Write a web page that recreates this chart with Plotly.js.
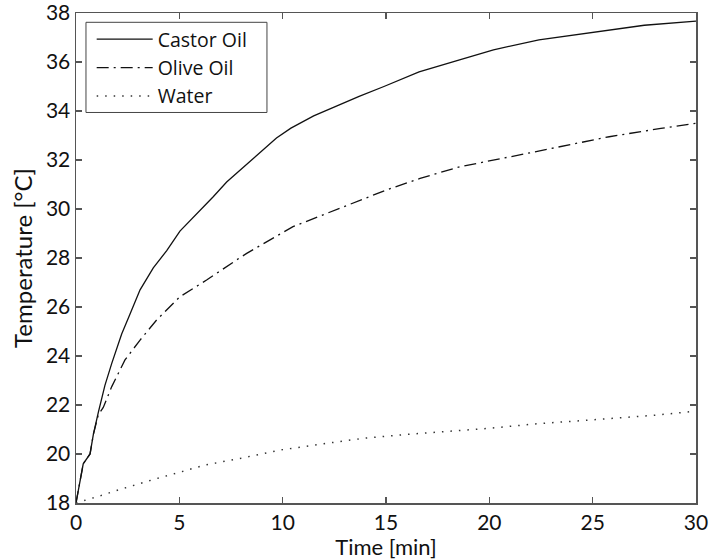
<!DOCTYPE html>
<html>
<head>
<meta charset="utf-8">
<script src="https://cdn.plot.ly/plotly-3.0.1.min.js"></script>
<style>html,body{margin:0;padding:0;background:#fff;}#chart{width:725px;height:560px;}</style>
</head>
<body>
<div id="chart"></div>
<script>
var castorT = [0, 0.35, 0.68, 0.84, 1.08, 1.40, 1.73, 2.21, 2.61, 3.10, 3.74, 4.39, 5.03, 5.84, 6.64, 7.29, 8.5, 9.7, 10.4, 11.5, 12.6, 13.7, 14.9, 16.6, 18.6, 20.2, 22.4, 25.0, 27.5, 30];
var castorY = [18, 19.6, 20.0, 20.8, 21.7, 22.8, 23.7, 24.9, 25.7, 26.7, 27.6, 28.3, 29.1, 29.8, 30.5, 31.1, 32.0, 32.9, 33.3, 33.8, 34.2, 34.6, 35.0, 35.6, 36.1, 36.5, 36.9, 37.2, 37.5, 37.67];

var oliveT = [0, 0.35, 0.68, 0.84, 1.08, 1.32, 1.73, 2.37, 3.10, 3.9, 5.03, 6.32, 7.77, 8.26, 10.5, 12.6, 15.03, 16.65, 18.6, 21, 23.4, 25.8, 28.3, 30];
var oliveY = [18, 19.6, 20.0, 20.8, 21.6, 21.9, 22.75, 23.84, 24.65, 25.47, 26.42, 27.1, 27.92, 28.19, 29.28, 29.96, 30.78, 31.25, 31.73, 32.13, 32.54, 32.95, 33.29, 33.5];

var waterT = [0, 0.5, 1.2, 2, 3, 4, 5, 6.24, 7.94, 9.87, 12, 13.9, 16, 17.94, 20, 22.13, 24, 26.16, 28, 30];
var waterY = [18, 18.12, 18.3, 18.52, 18.78, 19.02, 19.25, 19.55, 19.82, 20.16, 20.42, 20.64, 20.8, 20.91, 21.05, 21.22, 21.33, 21.46, 21.58, 21.75];

var seriesNames = ['Castor Oil', 'Olive Oil', 'Water'];
var xTicks = [0, 5, 10, 15, 20, 25, 30];
var yTicks = [18, 20, 22, 24, 26, 28, 30, 32, 34, 36, 38];

var FONT = 'Lato, "Open Sans", sans-serif';
var LFONT = '"Open Sans", Lato, sans-serif';

var traces = [
  {x: castorT, y: castorY, name: seriesNames[0], mode: 'lines', line: {color: '#111', width: 1.3}},
  {x: oliveT, y: oliveY, name: seriesNames[1], mode: 'lines', line: {color: '#111', width: 1.3, dash: '12px,5px,2px,5px'}},
  {x: waterT, y: waterY, name: seriesNames[2], mode: 'lines', line: {color: '#333', width: 1.5, dash: '1.5px,7px'}}
];

var axisCommon = {
  showgrid: false, zeroline: false, showline: true, mirror: 'ticks',
  linecolor: '#555', linewidth: 1.5,
  ticks: 'inside', ticklen: 6, tickcolor: '#555', tickwidth: 1.2,
  ticklabeloverflow: 'allow',
  tickfont: {family: FONT, size: 21, color: '#111'}
};

var layout = {
  width: 725, height: 560,
  margin: {l: 76, r: 29, t: 13, b: 57},
  paper_bgcolor: '#fff', plot_bgcolor: '#fff',
  showlegend: true,
  legend: {
    x: 0.0253, y: 0.9857, xanchor: 'left', yanchor: 'top',
    borderwidth: 0, bgcolor: 'rgba(0,0,0,0)',
    font: {family: LFONT, size: 19.5, color: '#111'},
    itemwidth: 56
  },
  shapes: [{
    type: 'rect', xref: 'paper', yref: 'paper',
    x0: 0.0161, x1: 0.308, y0: 0.797, y1: 0.981,
    line: {color: '#444', width: 1}, fillcolor: 'rgba(0,0,0,0)'
  }],
  xaxis: Object.assign({}, axisCommon, {
    range: [0, 30], tickvals: xTicks, ticktext: xTicks.map(String),
    title: {text: 'Time [min]', font: {family: FONT, size: 22, color: '#111'}, standoff: 2}
  }),
  yaxis: Object.assign({}, axisCommon, {
    range: [17.999, 38.001], tickvals: yTicks, ticktext: yTicks.map(String),
    title: {text: 'Temperature [°C]', font: {family: FONT, size: 24, color: '#111'}, standoff: 6}
  })
};

Plotly.newPlot('chart', traces, layout, {displayModeBar: false, staticPlot: true});
</script>
</body>
</html>
